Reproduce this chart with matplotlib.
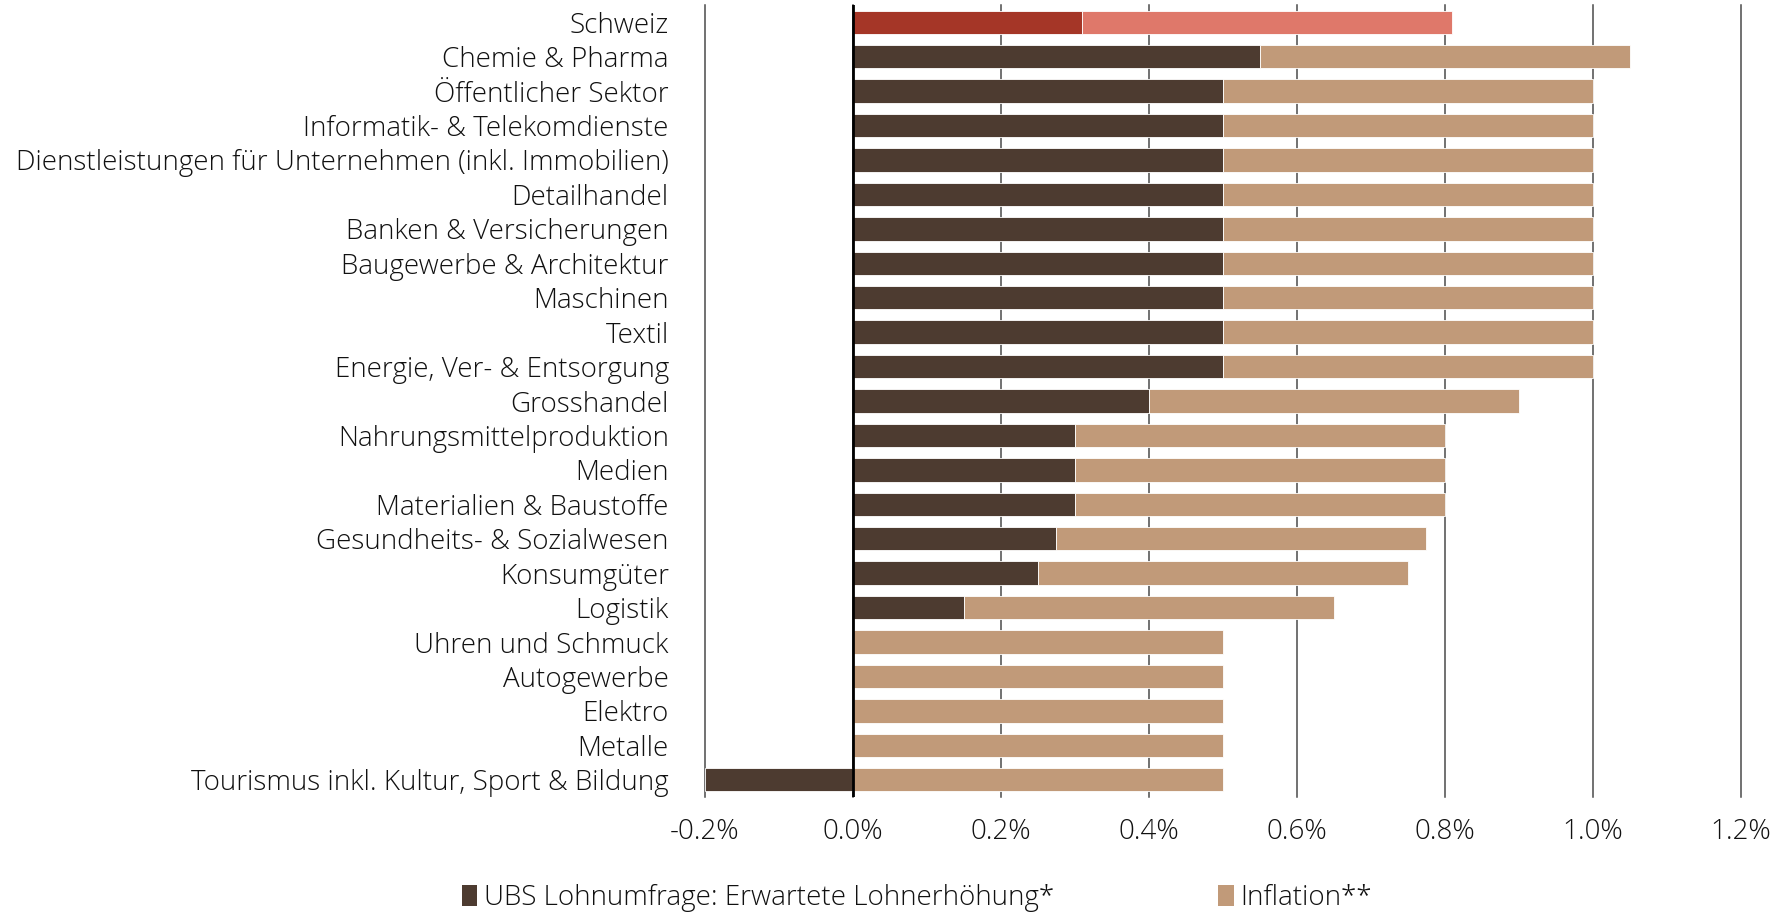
import matplotlib
matplotlib.use("Agg")
import matplotlib.pyplot as plt
from matplotlib.patches import Patch
import numpy as np

categories = [
    "Schweiz", "Chemie & Pharma", "Öffentlicher Sektor", "Informatik- & Telekomdienste",
    "Dienstleistungen für Unternehmen (inkl. Immobilien)", "Detailhandel",
    "Banken & Versicherungen", "Baugewerbe & Architektur", "Maschinen", "Textil",
    "Energie, Ver- & Entsorgung", "Grosshandel", "Nahrungsmittelproduktion", "Medien",
    "Materialien & Baustoffe", "Gesundheits- & Sozialwesen", "Konsumgüter", "Logistik",
    "Uhren und Schmuck", "Autogewerbe", "Elektro", "Metalle",
    "Tourismus inkl. Kultur, Sport & Bildung",
]
lohn = [0.31, 0.55, 0.5, 0.5, 0.5, 0.5, 0.5, 0.5, 0.5, 0.5, 0.5, 0.4, 0.3, 0.3, 0.3,
        0.275, 0.25, 0.15, 0.0, 0.0, 0.0, 0.0, -0.2]
inflation = [0.5] * 23
xticks = [-0.2, 0.0, 0.2, 0.4, 0.6, 0.8, 1.0, 1.2]
legend_labels = ["UBS Lohnumfrage: Erwartete Lohnerhöhung*", "Inflation**"]

plt.rcParams['font.family'] = ['Open Sans', 'DejaVu Sans']
FS = 20
W = 'light'
TC = "#111111"

dark = "#4d3b30"
light = "#c19a79"
dark_ch = "#a53627"
light_ch = "#df786a"

fig = plt.figure(figsize=(17.91, 9.14), dpi=100)
ax = fig.add_axes([0.3936, 0.128, 0.972 - 0.3936, 0.9945 - 0.128])

y = np.arange(len(categories))
lohn_a = np.array(lohn)
infl_a = np.array(inflation)
dcols = [dark_ch if c == "Schweiz" else dark for c in categories]
lcols = [light_ch if c == "Schweiz" else light for c in categories]
ax.barh(y, lohn_a, height=0.68, color=dcols, edgecolor="white", linewidth=0.6, zorder=3)
ax.barh(y, infl_a, left=np.clip(lohn_a, 0, None), height=0.68, color=lcols,
        edgecolor="white", linewidth=0.6, zorder=3)

ax.set_ylim(len(categories) - 0.5, -0.5)
ax.set_xlim(-0.2, 1.2)
ax.set_yticks(y)
ax.set_yticklabels(categories, fontsize=FS, fontweight=W, color=TC)
ax.set_xticks(xticks)
ax.set_xticklabels([f"{v:.1f}%" for v in xticks], fontsize=FS, fontweight=W, color=TC)
ax.tick_params(axis='y', length=0, pad=26)
ax.tick_params(axis='x', length=0, pad=15)
for s in ax.spines.values():
    s.set_visible(False)
ax.grid(axis='x', color="#4a4a4a", linewidth=1.1, zorder=1)
for gl in ax.get_xgridlines():
    gl.set_clip_on(False)
ax.axvline(0, color="black", linewidth=2, zorder=4)

handles = [Patch(facecolor=dark), Patch(facecolor=light)]
leg = fig.legend(handles, legend_labels, loc='center left', bbox_to_anchor=(0.258, 0.0175),
                 ncol=2, frameon=False, prop={'weight': W, 'size': FS},
                 borderpad=0, borderaxespad=0,
                 handlelength=0.55, handleheight=0.8, handletextpad=0.25, columnspacing=5.9)
for t in leg.get_texts():
    t.set_color(TC)

fig.savefig("out.png", dpi=100)
